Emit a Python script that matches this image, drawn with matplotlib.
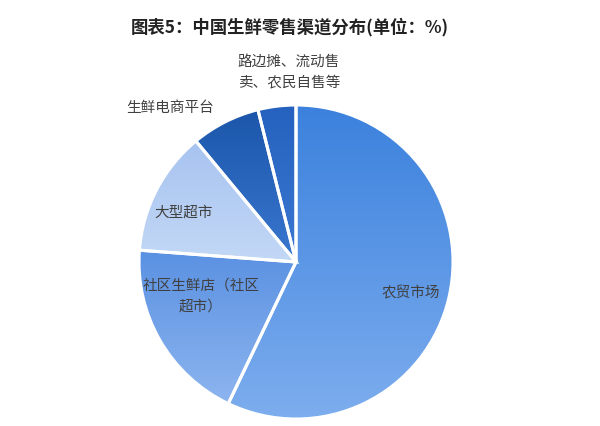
import matplotlib
matplotlib.use("Agg")
import matplotlib.pyplot as plt
import numpy as np
from matplotlib.colors import LinearSegmentedColormap

plt.rcParams['font.family'] = ['Noto Sans CJK SC', 'DejaVu Sans']

# Data (share of fresh-food retail channels, %)
channels = ["农贸市场", "社区生鲜店（社区\n超市）", "大型超市", "生鲜电商平台", "路边摊、流动售\n卖、农民自售等"]
shares = [57.1, 19.1, 12.8, 7.1, 3.9]
# top colour, bottom colour of each wedge's gradient
top_colors = ["#3b81dd", "#5a91e2", "#a7c3f0", "#1b56aa", "#2562bf"]
bottom_colors = ["#7dadee", "#8db5ef", "#c3d8f6", "#3a77cf", "#3b78d2"]

W, H = 600, 426
fig = plt.figure(figsize=(6, 4.26), dpi=100)
ax = fig.add_axes([0, 0, 1, 1])

cx, cy, r = 296, H - 262, 157
wedges, _ = ax.pie(shares, colors=top_colors, startangle=90, counterclock=False,
                   center=(cx, cy), radius=r, frame=True,
                   wedgeprops=dict(edgecolor="white", linewidth=2.2))
ax.set_xlim(0, W)
ax.set_ylim(0, H)
ax.set_aspect("equal")
ax.axis("off")

# vertical gradient fill, clipped to each wedge
grad = np.linspace(1, 0, 256).reshape(-1, 1)
for w, c0, c1 in zip(wedges, top_colors, bottom_colors):
    bb = w.get_path().get_extents()
    cmap = LinearSegmentedColormap.from_list("g", [c1, c0])
    im = ax.imshow(grad, cmap=cmap, aspect="auto", origin="lower",
                   extent=[bb.x0, bb.x1, bb.y0, bb.y1], zorder=w.get_zorder(),
                   vmin=0, vmax=1)
    im.set_array(np.linspace(0, 1, 256).reshape(-1, 1))
    im.set_clip_path(w)
    w.set_facecolor("none")
    w.set_zorder(w.get_zorder() + 0.5)

# labels (pixel positions measured from top-left)
label_pos = [(411, 293), (201, 296), (184, 213), (170, 108), (289, 72)]
for name, (x, y) in zip(channels, label_pos):
    ax.text(x, H - y, name, ha="center", va="center", fontsize=10.5,
            color="#404040", linespacing=1.6, zorder=5)

fig.text(290 / W, 1 - 27 / H, "图表5：中国生鲜零售渠道分布(单位：%)", ha="center",
         va="center", fontsize=12.5, fontweight="bold", color="#222222")

fig.savefig("out.png", dpi=100)
